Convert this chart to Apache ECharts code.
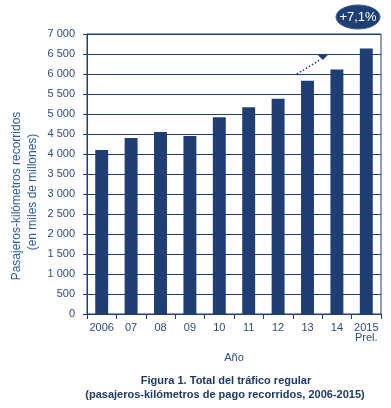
<!DOCTYPE html>
<html><head><meta charset="utf-8">
<script src="https://cdn.jsdelivr.net/npm/echarts@6/dist/echarts.min.js"></script>
<style>html,body{margin:0;padding:0;background:#fff}#c{width:391px;height:408px}</style>
</head><body><div id="c"></div>
<script>
const categories = ['2006','07','08','09','10','11','12','13','14','2015\nPrel.'];
const values = [4100, 4400, 4550, 4450, 4920, 5170, 5380, 5830, 6110, 6640];
const yMin = 0, yMax = 7000, yStep = 500;
const growthLabel = '+7,1%';
const xAxisTitle = 'Año';
const yAxisTitle = ['Pasajeros-kilómetros recorridos', '(en miles de millones)'];
const chartTitle = ['Figura 1. Total del tráfico regular', '(pasajeros-kilómetros de pago recorridos, 2006-2015)'];

const navy = '#1f3e74';
const labelColor = '#2f4a78';
const font = 'Liberation Sans, Arial, sans-serif';
const chart = echarts.init(document.getElementById('c'), null, {renderer:'canvas'});
function fmt(v){ return String(v).replace(/\B(?=(\d{3})+(?!\d))/g, ' '); }
chart.setOption({
  animation:false,
  grid:{left:87, right:10, top:34, bottom:94, show:true, borderColor:navy, borderWidth:1, backgroundColor:'transparent'},
  xAxis:{type:'category', data:categories,
    axisLine:{lineStyle:{color:navy, width:1}},
    axisTick:{show:true, length:5, lineStyle:{color:navy}, alignWithLabel:false},
    axisLabel:{color:labelColor, fontSize:11, fontFamily:font, margin:9, lineHeight:10, interval:0},
    name:xAxisTitle, nameLocation:'middle', nameGap:38,
    nameTextStyle:{color:labelColor, fontSize:11, fontFamily:font}
  },
  yAxis:{type:'value', min:yMin, max:yMax, interval:yStep,
    axisLine:{show:true, lineStyle:{color:navy, width:1}},
    axisTick:{show:true, length:4, lineStyle:{color:navy}},
    splitLine:{show:true, lineStyle:{color:navy, width:1.2}},
    axisLabel:{color:labelColor, fontSize:11, fontFamily:font, margin:12, formatter:fmt}
  },
  series:[{type:'bar', data:values, barWidth:'44%', itemStyle:{color:navy}}]
});

function drawAnnotations(){
  const p = (i, v) => chart.convertToPixel({gridIndex:0}, [i, v]);
  const c6 = p(6, 6000), c7 = p(7, 6000);
  const dx = c7[0] - c6[0];
  const start = [c6[0] + dx*0.64, chart.convertToPixel({yAxisIndex:0}, 6000)];
  const tip = [c6[0] + dx*1.52, chart.convertToPixel({yAxisIndex:0}, 6400)];
  const headTop = chart.convertToPixel({yAxisIndex:0}, 6500);
  chart.setOption({graphic:[
    {type:'line', shape:{x1:start[0], y1:start[1], x2:tip[0]-3, y2:tip[1]+2},
      style:{stroke:navy, lineWidth:1.5, lineDash:[1.5,2]}},
    {type:'polygon', shape:{points:[[tip[0]-5, headTop+1],[tip[0]+5, headTop+1],[tip[0], tip[1]+2]]},
      style:{fill:navy}},
    {type:'ellipse', shape:{cx:358, cy:17, rx:22, ry:12}, style:{fill:navy, stroke:'#3a5a94', lineWidth:1}},
    {type:'text', x:358, y:17, style:{text:growthLabel, fill:'#fff', font:'13px '+font, align:'center', verticalAlign:'middle'}},
    {type:'text', x:17, y:196, rotation:Math.PI/2,
      style:{text:yAxisTitle[0], fill:'#2e5a9a', font:'12px '+font, align:'center', verticalAlign:'middle'}},
    {type:'text', x:33, y:192, rotation:Math.PI/2,
      style:{text:yAxisTitle[1], fill:'#2e5a9a', font:'12px '+font, align:'center', verticalAlign:'middle'}},
    {type:'text', x:226, y:381,
      style:{text:chartTitle[0], fill:'#1f3864', font:'bold 11px '+font, align:'center', verticalAlign:'middle'}},
    {type:'text', x:225, y:395,
      style:{text:chartTitle[1], fill:'#1f3864', font:'bold 11px '+font, align:'center', verticalAlign:'middle'}}
  ]});
}
drawAnnotations();
</script></body></html>
